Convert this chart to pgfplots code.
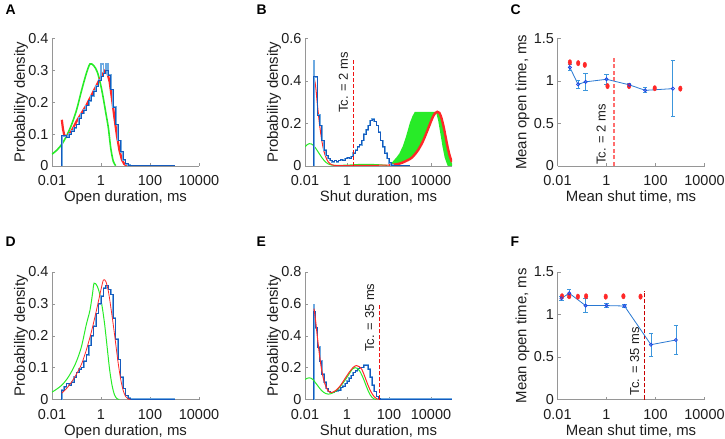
\documentclass[border=0pt]{standalone}
\usepackage{fontspec}
\setmainfont{Liberation Sans}
\usepackage{pgfplots}
\usepackage{pgfplotstable}
\pgfplotsset{compat=1.18}

\definecolor{axgray}{RGB}{150,150,150}
\definecolor{labgray}{RGB}{30,30,30}
\definecolor{hdark}{RGB}{20,90,190}
\definecolor{hlight}{RGB}{110,170,225}
\definecolor{fitred}{RGB}{255,40,40}
\definecolor{fitgreen}{RGB}{40,235,40}
\definecolor{dashred}{RGB}{240,20,20}
\definecolor{tclight}{RGB}{255,110,110}
\definecolor{tcdark}{RGB}{200,0,0}
\definecolor{cline}{RGB}{40,120,210}
\definecolor{cerr}{RGB}{60,150,220}
\definecolor{cmark}{RGB}{30,60,230}

\pgfplotsset{
  every axis/.append style={
    scale only axis, width=147bp, height=127.5bp,
    axis x line*=bottom, axis y line*=left,
    axis line style={draw=axgray, line width=0.6pt},
    xminorticks=false, yminorticks=false,
    xtick={0.01,1,100,10000}, xticklabels={0.01,1,100,10000},
    tick align=inside, major tick length=3bp,
    tick style={draw=axgray, line width=0.5pt},
    tick label style={font=\fontsize{14.5}{16}\selectfont, text=labgray},
    xticklabel style={anchor=base, yshift=-19.5bp},
    label style={font=\fontsize{15}{18}\selectfont, text=labgray},
    xlabel style={at={(axis description cs:0.5,0)}, anchor=base, yshift=-35.5bp},
    ylabel style={at={(axis description cs:-0.184,0.5)}, anchor=base},
  },
  hist/.style={const plot mark left, no markers},
}
\tikzset{
  tctext/.style={rotate=90, anchor=south west, inner sep=0pt,
    font=\fontsize{13}{15}\selectfont, text=labgray},
}

% open-time histogram A: t, dark, light
\pgfplotstableread{
t d l
0.02512 0 0
0.02512 0.095 0.095
0.03162 0.095 0.095
0.03981 0.09 0.09
0.05012 0.10 0.10
0.06310 0.11 0.11
0.07943 0.12 0.12
0.1 0.13 0.13
0.1259 0.15 0.15
0.1585 0.165 0.165
0.1995 0.175 0.175
0.2512 0.19 0.19
0.3162 0.205 0.205
0.3981 0.22 0.22
0.5012 0.235 0.235
0.6310 0.25 0.25
0.7943 0.27 0.27
1 0.28 0.32
1.259 0.29 0.29
1.585 0.30 0.32
1.995 0.285 0.285
2.512 0.24 0.24
3.162 0.185 0.185
3.981 0.13 0.13
5.012 0.08 0.08
6.310 0.045 0.045
7.943 0.02 0.02
10 0.007 0.007
12.59 0.002 0.002
15.85 0.001 0.001
1000 0.001 0.001
}\histA

\pgfplotstableread{
t y
0.02512 0
0.02512 0.42
0.03162 0.42
0.03981 0.24
0.05012 0.19
0.06310 0.12
0.07943 0.075
0.1 0.05
0.1259 0.035
0.1585 0.025
0.1995 0.02
0.2512 0.025
0.3162 0.02
0.3981 0.025
0.5012 0.03
0.6310 0.025
0.7943 0.035
1 0.04
1.259 0.035
1.585 0.045
1.995 0.06
2.512 0.075
3.162 0.09
3.981 0.10
5.012 0.12
6.310 0.15
7.943 0.17
10 0.19
12.59 0.215
15.85 0.22
19.95 0.21
25.12 0.19
31.62 0.16
39.81 0.12
50.12 0.09
63.10 0.06
79.43 0.035
100 0.015
125.9 0.005
158.5 0.002
199.5 0.001
1000 0.001
}\histB

\pgfplotstableread{
t y
0.02512 0
0.02512 0.03
0.03162 0.04
0.03981 0.05
0.05012 0.045
0.06310 0.055
0.07943 0.07
0.1 0.085
0.1259 0.095
0.1585 0.10
0.1995 0.12
0.2512 0.14
0.3162 0.17
0.3981 0.20
0.5012 0.23
0.6310 0.27
0.7943 0.30
1 0.325
1.259 0.35
1.585 0.358
1.995 0.345
2.512 0.33
3.162 0.255
3.981 0.19
5.012 0.125
6.310 0.07
7.943 0.035
10 0.012
12.59 0.004
15.85 0.001
1000 0.001
}\histD

\pgfplotstableread{
t y
0.02512 0
0.02512 0.55
0.03162 0.45
0.03981 0.33
0.05012 0.24
0.06310 0.16
0.07943 0.11
0.1 0.07
0.1259 0.05
0.1585 0.045
0.1995 0.045
0.2512 0.05
0.3162 0.055
0.3981 0.06
0.5012 0.075
0.6310 0.085
0.7943 0.10
1 0.115
1.259 0.135
1.585 0.15
1.995 0.17
2.512 0.18
3.162 0.195
3.981 0.20
5.012 0.20
6.310 0.215
7.943 0.215
10 0.19
12.59 0.14
15.85 0.09
19.95 0.05
25.12 0.02
31.62 0.006
39.81 0.002
100000 0.002
}\histE

\begin{document}
\begin{tikzpicture}[x=1bp,y=1bp]
\useasboundingbox (0,0) rectangle (725bp,439bp);

\node[anchor=base west, font=\fontsize{14}{16}\selectfont\bfseries] at (2bp,424bp) {A};
\node[anchor=base west, font=\fontsize{14}{16}\selectfont\bfseries] at (253bp,424bp) {B};
\node[anchor=base west, font=\fontsize{14}{16}\selectfont\bfseries] at (507bp,424bp) {C};
\node[anchor=base west, font=\fontsize{14}{16}\selectfont\bfseries] at (2bp,192bp) {D};
\node[anchor=base west, font=\fontsize{14}{16}\selectfont\bfseries] at (253bp,192bp) {E};
\node[anchor=base west, font=\fontsize{14}{16}\selectfont\bfseries] at (507bp,192bp) {F};

% ---------------- A ----------------
\begin{axis}[xmode=log, xmin=0.01, xmax=10000, at={(52bp,273bp)}, anchor=south west,
  ymin=0, ymax=0.4, ytick={0,0.1,0.2,0.3,0.4}, yticklabels={0,0.1,0.2,0.3,0.4},
  xlabel={Open duration, ms}, ylabel={Probability density}]
\addplot[fitgreen, line width=1.6bp, smooth] coordinates {
 (0.01,0.037) (0.01585,0.05) (0.02512,0.068) (0.03981,0.095) (0.06310,0.13)
 (0.1,0.175) (0.1585,0.235) (0.2512,0.29) (0.3548,0.32) (0.5012,0.315)
 (0.7079,0.295) (1,0.25) (1.259,0.21) (1.585,0.165) (1.995,0.12)
 (2.512,0.055) (3.162,0.015) (3.981,0.001)};
\addplot[fitred, line width=2.2bp] coordinates {
 (0.02512,0.145) (0.02818,0.115) (0.03162,0.097) (0.03981,0.092) (0.05012,0.10)
 (0.06310,0.11) (0.1,0.14) (0.1585,0.165) (0.2512,0.19) (0.3981,0.22)
 (0.6310,0.25) (1,0.28) (1.259,0.292) (1.479,0.30) (1.778,0.295)
 (2.239,0.265) (2.818,0.21) (3.548,0.15) (4.467,0.095) (5.623,0.05)
 (7.079,0.02) (8.913,0.006) (11.22,0.001)};
\addplot[hist, hlight, line width=1.8bp] table[x=t, y=l] {\histA};
\addplot[hist, hdark, line width=0.8bp] table[x=t, y=d] {\histA};
\end{axis}

% ---------------- B ----------------
\begin{axis}[xmode=log, xmin=0.01, xmax=100000, at={(305bp,273bp)}, anchor=south west,
  ymin=0, ymax=0.6, ytick={0,0.2,0.4,0.6}, yticklabels={0,0.2,0.4,0.6},
  xlabel={Shut duration, ms}, ylabel={Probability density}]
\addplot[fill=fitgreen, draw=none] coordinates {
 (79.43,0) (125.9,0.012) (223.9,0.04) (316.2,0.06) (457.1,0.094) (631,0.135)
 (794.3,0.17) (1000,0.205) (1318,0.235) (1698,0.255) (22387,0.255)
 (28184,0.245) (35481,0.21) (44668,0.165) (56234,0.115) (70795,0.065)
 (89125,0.025) (100000,0.012) (100000,0) (63096,0) (56234,0.012)
 (44668,0.04) (35481,0.09) (28184,0.15) (22387,0.21) (17783,0.25)
 (15849,0.249) (12589,0.233) (10000,0.21) (6310,0.16) (3981,0.113)
 (2512,0.077) (1585,0.051) (1000,0.033) (316.2,0.011) (100,0.004)} -- cycle;
\addplot[fitgreen, line width=1bp, smooth] coordinates {
 (0.01,0.09) (0.01259,0.10) (0.01585,0.105) (0.01995,0.104) (0.02512,0.097)
 (0.03162,0.085) (0.03981,0.07) (0.05012,0.055) (0.06310,0.04) (0.07943,0.027)
 (0.1,0.017) (0.1259,0.01) (0.1585,0.006) (0.2512,0.003) (1,0.004)
 (3.162,0.007) (10,0.008) (31.62,0.006) (79.43,0.003)};
\addplot[fitred, line width=1bp, smooth] coordinates {
 (0.02512,0.43) (0.03162,0.38) (0.03981,0.28) (0.05012,0.19) (0.06310,0.12)
 (0.07943,0.07) (0.1,0.04) (0.1259,0.02) (0.1585,0.01) (0.1995,0.005)
 (0.3162,0.002) (1,0.002) (10,0.003) (100,0.004)};
\addplot[fitred, line width=2.4bp, smooth] coordinates {
 (100,0.004) (316.2,0.011) (1000,0.033) (1585,0.051) (2512,0.077)
 (3981,0.113) (6310,0.16) (10000,0.21) (12589,0.233) (15849,0.249)
 (19953,0.255) (25119,0.25) (31623,0.225) (39811,0.185) (50119,0.135)
 (63096,0.085) (79433,0.045) (100000,0.018)};
\addplot[hlight, line width=2.4bp] coordinates {(0.026,0) (0.026,0.5)};
\addplot[hist, hlight, line width=1.6bp] table[x=t, y=y] {\histB};
\addplot[hist, hdark, line width=0.8bp] table[x=t, y=y] {\histB};
\draw[draw=dashred, line width=1.3bp, dash pattern=on 4bp off 2bp]
  (axis cs:2,0) -- (axis cs:2,0.5);
\node[tctext] at ([xshift=-5bp]axis cs:2,0.25) {Tc. = 2 ms};
\end{axis}

% ---------------- C ----------------
\begin{axis}[xmode=log, xmin=0.01, xmax=10000, at={(557.5bp,273bp)}, anchor=south west,
  ymin=0, ymax=1.5, ytick={0,0.5,1,1.5}, yticklabels={0,0.5,1,1.5},
  xlabel={Mean shut time, ms}, ylabel={Mean open time, ms},
  ylabel style={at={(axis description cs:-0.211,0.5)}}]
\addplot[tclight, line width=1.6bp, dash pattern=on 4bp off 2.5bp] coordinates {(2,0) (2,1.28)};
\node[tctext] at ([xshift=-8bp]axis cs:2,0.01) {Tc. = 2 ms};
\addplot[only marks, mark=*, mark size=1.8bp, fitred,
  mark options={yscale=1.5, fill=fitred, draw=fitred}] coordinates {
 (0.032,1.22) (0.070,1.21) (0.13,1.19) (1.1,0.94) (8.3,0.94) (93,0.915) (1030,0.91)};
\addplot[cline, line width=0.8pt, mark=o, mark size=1.6bp,
  mark options={draw=cmark, line width=0.7pt},
  error bars/.cd, y dir=both, y explicit,
  error bar style={cerr, line width=0.8pt},
  error mark options={rotate=90, cerr, mark size=2.2bp, line width=0.8pt}]
 coordinates {
 (0.032,1.16) +- (0,0.03)
 (0.069,0.96) +- (0,0.05)
 (0.14,0.99) +- (0,0.10)
 (1.0,1.02) +- (0,0.06)
 (8.5,0.955) +- (0,0.02)
 (38,0.89) +- (0,0.03)
 (510,0.91) +- (0,0.33)};
\end{axis}

% ---------------- D ----------------
\begin{axis}[xmode=log, xmin=0.01, xmax=10000, at={(52bp,39.5bp)}, anchor=south west,
  ymin=0, ymax=0.4, ytick={0,0.1,0.2,0.3,0.4}, yticklabels={0,0.1,0.2,0.3,0.4},
  xlabel={Open duration, ms}, ylabel={Probability density}]
\addplot[fitgreen, line width=1bp, smooth] coordinates {
 (0.01,0.023) (0.01585,0.033) (0.02512,0.045) (0.03981,0.063) (0.06310,0.088)
 (0.1,0.12) (0.1585,0.165) (0.2512,0.235) (0.3548,0.28) (0.4467,0.33)
 (0.5248,0.365) (0.7079,0.355) (0.8913,0.33) (1.122,0.29) (1.413,0.235)
 (1.778,0.165) (2.239,0.095) (2.818,0.045) (3.548,0.015) (4.467,0.003) (5.623,0)};
\addplot[hist, hlight, line width=1.6bp] table[x=t, y=y] {\histD};
\addplot[hist, hdark, line width=0.8bp] table[x=t, y=y] {\histD};
\addplot[fitred, line width=0.8bp, smooth] coordinates {
 (0.02512,0.02) (0.03981,0.035) (0.06310,0.055) (0.1,0.08) (0.1585,0.11)
 (0.2512,0.155) (0.3981,0.21) (0.6310,0.275) (1,0.345) (1.259,0.375)
 (1.585,0.37) (1.995,0.34) (2.512,0.29) (3.162,0.235) (3.981,0.175)
 (5.012,0.115) (6.310,0.065) (7.943,0.03) (10,0.01) (12.59,0.002) (15.85,0)};
\end{axis}

% ---------------- E ----------------
\begin{axis}[xmode=log, xmin=0.01, xmax=100000, at={(305bp,39.5bp)}, anchor=south west,
  ymin=0, ymax=0.8, ytick={0,0.2,0.4,0.6,0.8}, yticklabels={0,0.2,0.4,0.6,0.8},
  xlabel={Shut duration, ms}, ylabel={Probability density}]
\addplot[hlight, line width=2.4bp] coordinates {(0.026,0) (0.026,0.6)};
\addplot[hist, hlight, line width=1.6bp] table[x=t, y=y] {\histE};
\addplot[hist, hdark, line width=0.8bp] table[x=t, y=y] {\histE};
\addplot[fitgreen, line width=1bp, smooth] coordinates {
 (0.01,0.125) (0.01259,0.133) (0.01585,0.136) (0.01995,0.133) (0.02512,0.122)
 (0.03162,0.105) (0.03981,0.088) (0.05012,0.07) (0.06310,0.055) (0.07943,0.044)
 (0.1,0.037) (0.1259,0.034) (0.1585,0.035) (0.1995,0.04) (0.3162,0.055)
 (0.5012,0.085) (0.7943,0.12) (1.259,0.16) (1.778,0.19) (2.399,0.20)
 (3.162,0.195) (3.981,0.18) (5.012,0.155) (6.310,0.125) (7.943,0.09)
 (10,0.057) (12.59,0.03) (15.85,0.012) (19.95,0.003) (25.12,0)};
\addplot[fitred, line width=1bp, smooth] coordinates {
 (0.02692,0.57) (0.03162,0.5) (0.03981,0.38) (0.05012,0.27) (0.06310,0.18)
 (0.07943,0.12) (0.1,0.08) (0.1259,0.055) (0.1585,0.045) (0.1995,0.045)
 (0.3162,0.06) (0.5012,0.09) (0.7943,0.13) (1.259,0.17) (1.995,0.202)
 (2.818,0.213) (3.981,0.205) (5.012,0.19) (6.310,0.16) (7.943,0.125)
 (10,0.09) (12.59,0.06) (15.85,0.035) (19.95,0.017) (25.12,0.006) (31.62,0.001)};
\draw[draw=dashred, line width=1.3bp, dash pattern=on 4bp off 2bp]
  (axis cs:35,0) -- (axis cs:35,0.6);
\node[tctext] at ([xshift=-5bp]axis cs:35,0.30) {Tc. = 35 ms};
\end{axis}

% ---------------- F ----------------
\begin{axis}[xmode=log, xmin=0.01, xmax=10000, at={(557.5bp,39.5bp)}, anchor=south west,
  ymin=0, ymax=1.5, ytick={0,0.5,1,1.5}, yticklabels={0,0.5,1,1.5},
  xlabel={Mean shut time, ms}, ylabel={Mean open time, ms},
  ylabel style={at={(axis description cs:-0.211,0.5)}}]
\addplot[tcdark, line width=1.1bp, dash pattern=on 4bp off 2bp] coordinates {(35,0) (35,1.275)};
\node[tctext] at ([xshift=-5bp]axis cs:35,0.05) {Tc. = 35 ms};
\addplot[only marks, mark=*, mark size=1.8bp, fitred,
  mark options={yscale=1.5, fill=fitred, draw=fitred}] coordinates {
 (0.0153,1.215) (0.03,1.215) (0.068,1.21) (0.147,1.215) (0.93,1.21) (4.9,1.215) (24.5,1.21)};
\addplot[cline, line width=0.8pt, mark=o, mark size=1.6bp,
  mark options={draw=cmark, line width=0.7pt},
  error bars/.cd, y dir=both, y explicit,
  error bar style={cerr, line width=0.8pt},
  error mark options={rotate=90, cerr, mark size=2.2bp, line width=0.8pt}]
 coordinates {
 (0.0145,1.19) +- (0,0.02)
 (0.03,1.25) +- (0,0.05)
 (0.14,1.105) +- (0,0.08)
 (1.0,1.105) +- (0,0.02)
 (5.4,1.10) +- (0,0.02)
 (65,0.645) +- (0,0.135)
 (680,0.70) +- (0,0.17)};
\end{axis}
\end{tikzpicture}
\end{document}
